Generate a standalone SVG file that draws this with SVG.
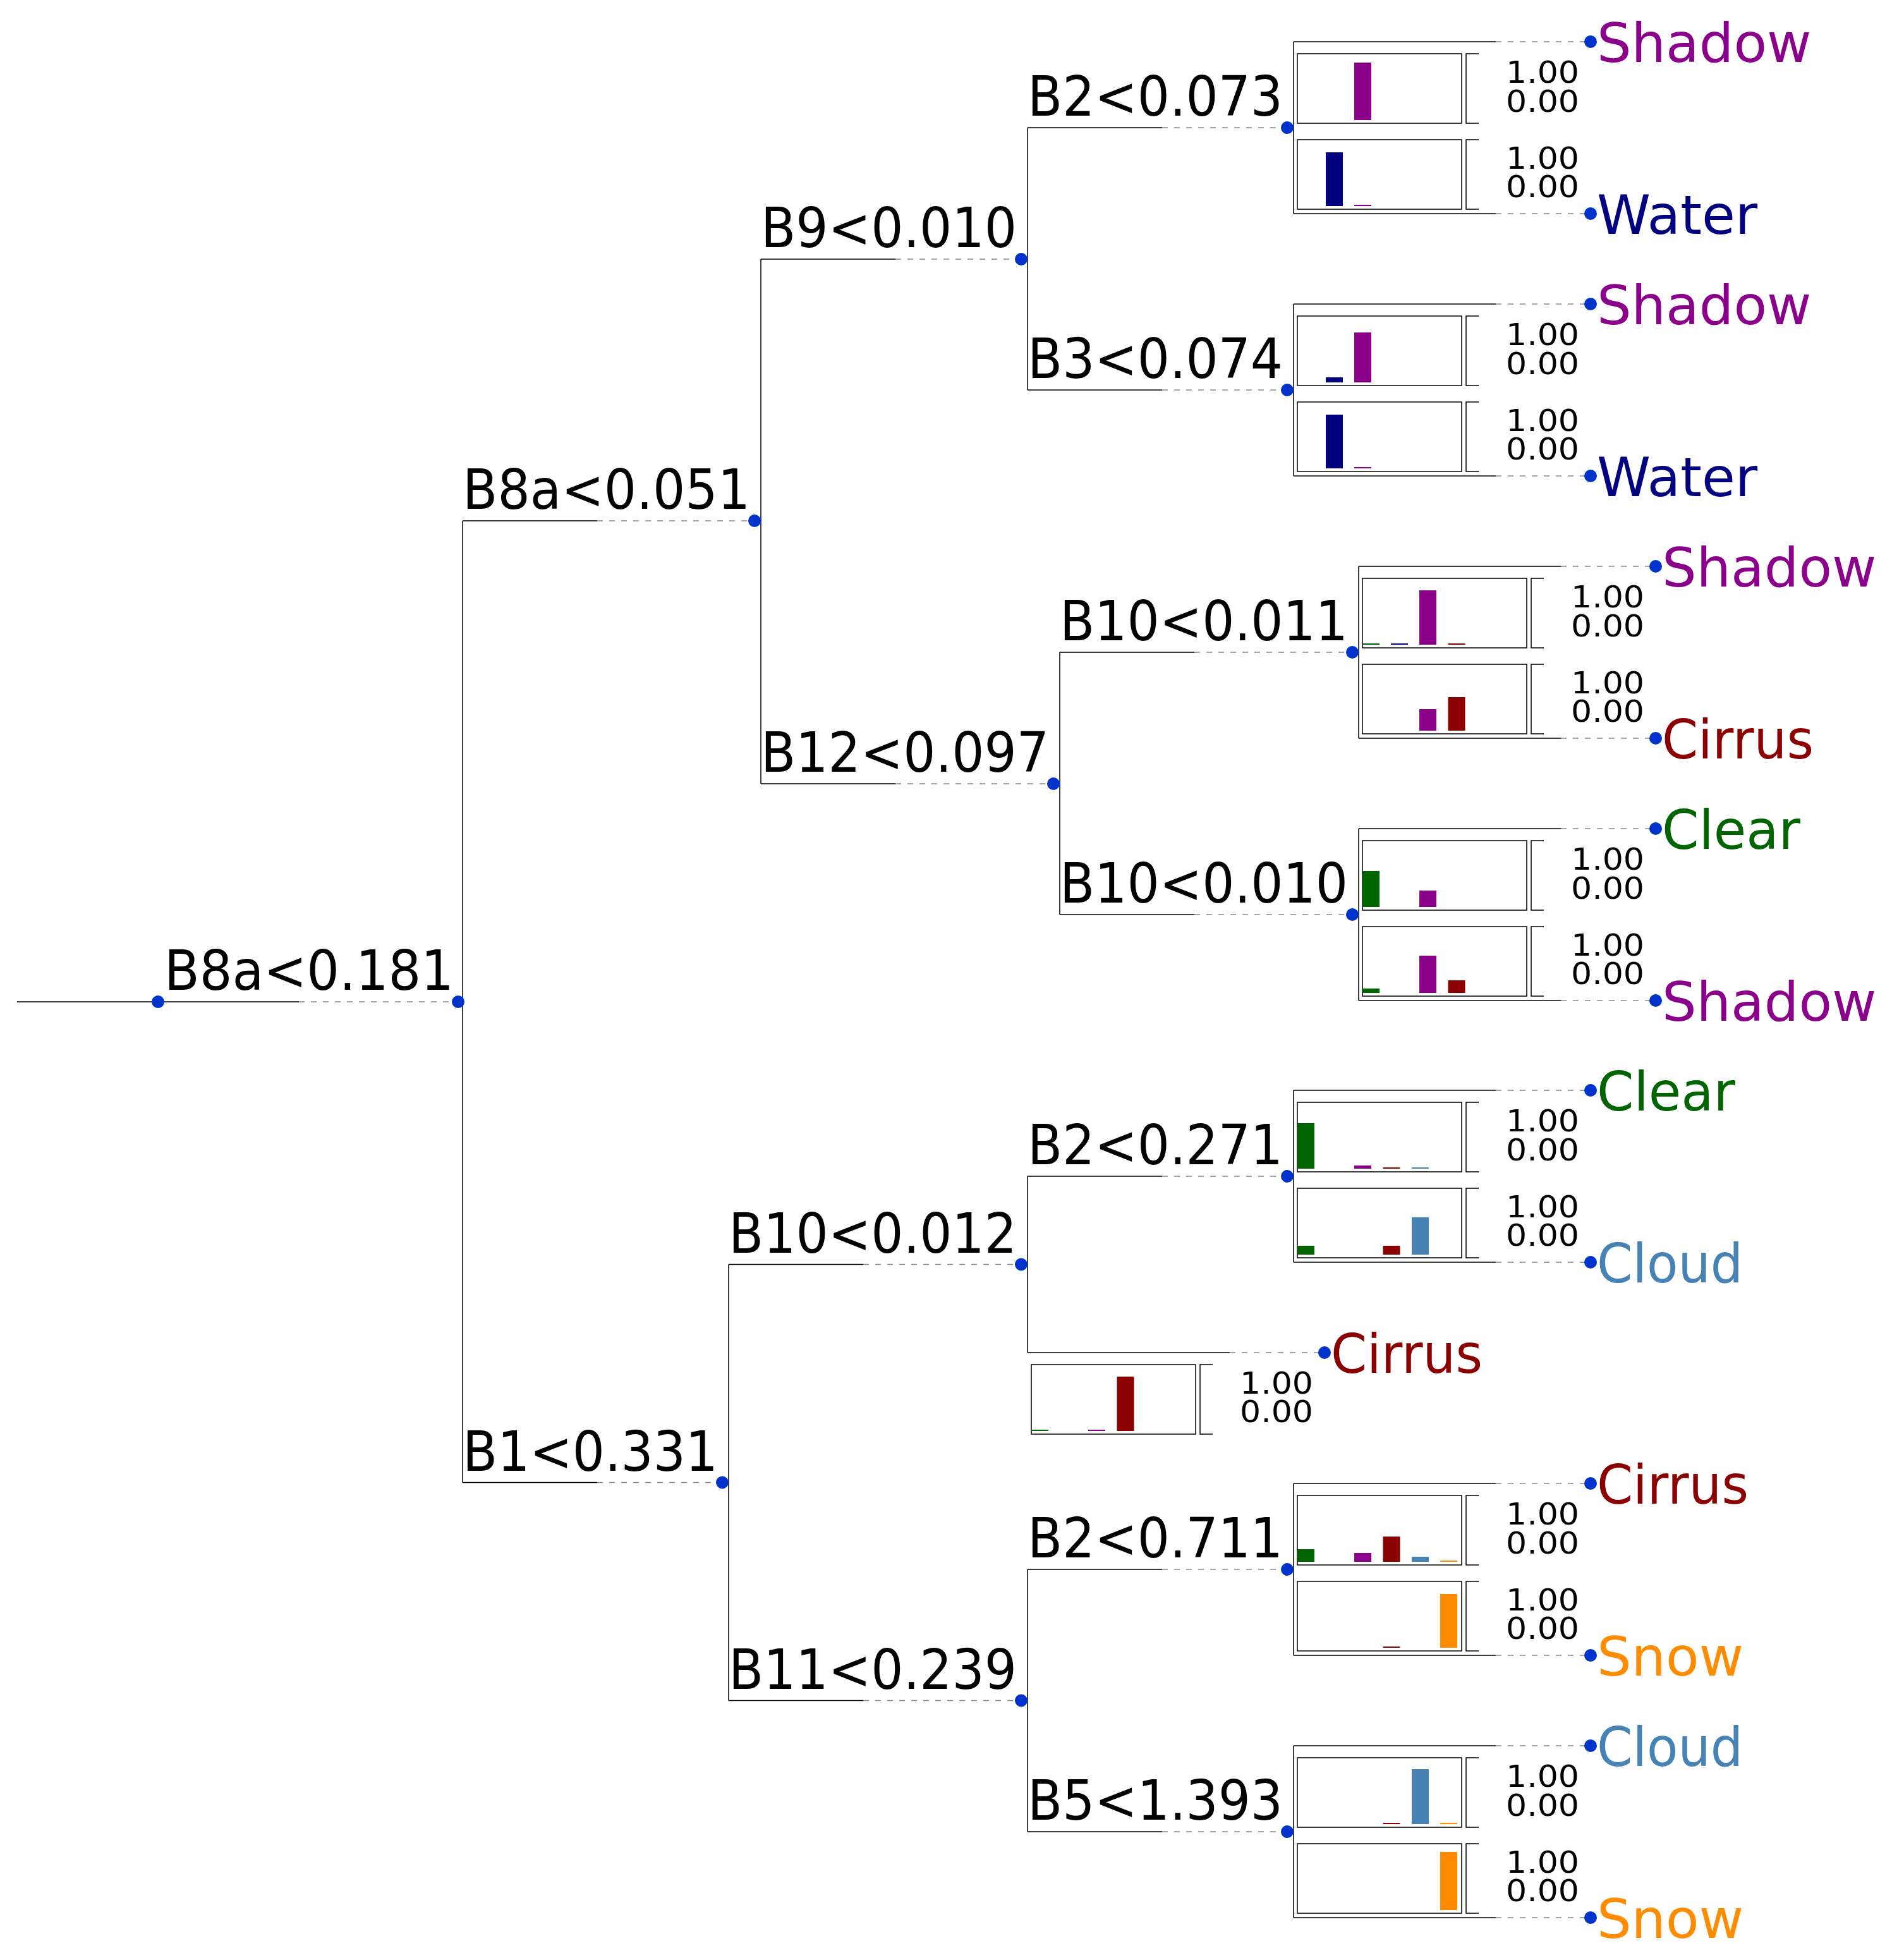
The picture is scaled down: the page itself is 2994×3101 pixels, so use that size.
<svg xmlns="http://www.w3.org/2000/svg" width="2994" height="3101" viewBox="0 0 2994 3101">
<style>
.e{stroke:#000;stroke-width:1.5;fill:none}
.d{stroke:#888;stroke-width:1.5;stroke-dasharray:9 10;fill:none}
.dot{fill:#0033cc}
.lbl{font-family:"DejaVu Sans",sans-serif;font-size:87px;fill:#000}
.lf{font-family:"DejaVu Sans",sans-serif;font-size:86px}
.num{font-family:"DejaVu Sans",sans-serif;font-size:48px;fill:#000}
.bx{fill:none;stroke:#000;stroke-width:1.5}
.g{fill:#006400}.w{fill:#000080}.s{fill:#8b008b}.c{fill:#8b0000}.cl{fill:#4682b4}.sn{fill:#ff8c00}
</style>
<defs>
<g id="box1"><rect class="bx" x="6" y="-117" width="260" height="110"/><path class="bx" d="M293,-117H273V-7H293"/><text class="num" x="336" y="-71" textLength="116" lengthAdjust="spacingAndGlyphs">1.00</text><text class="num" x="336" y="-25" textLength="116" lengthAdjust="spacingAndGlyphs">0.00</text></g>
<g id="box2"><rect class="bx" x="6" y="19" width="260" height="110"/><path class="bx" d="M293,19H273V129H293"/><text class="num" x="336" y="65" textLength="116" lengthAdjust="spacingAndGlyphs">1.00</text><text class="num" x="336" y="110" textLength="116" lengthAdjust="spacingAndGlyphs">0.00</text></g>
</defs>
<rect width="2994" height="3101" fill="#fff"/>
<g id="connectors">
<path class="e" d="M27,1585H473M732,824V2345.5M1204,410V1240M1153,2000.5V2690.5M1626,202V617M1677,1032V1447M1626,1861V2140M1626,2483V2898M2047,66V338M2047,481V753M2150,896V1168M2150,1311V1583M2047,1725V1997M2047,2347V2619M2047,2762V3034"/>
<path class="d" d="M473,1585H725"/>
<path class="e" d="M732,824H945M732,2345.5H945M1204,410H1417M1204,1240H1417M1153,2000.5H1366M1153,2690.5H1366M1626,202H1839M1626,617H1839M1677,1032H1890M1677,1447H1890M1626,1861H1839M1626,2483H1839M1626,2898H1839"/>
<path class="d" d="M945,824H1194M945,2345.5H1143M1417,410H1616M1417,1240H1667M1366,2000.5H1616M1366,2690.5H1616M1839,202H2037M1839,617H2037M1890,1032H2140M1890,1447H2140M1839,1861H2037M1839,2483H2037M1839,2898H2037"/>
<path class="e" d="M1626,2140H1946M2047,66H2367M2047,338H2367M2047,481H2367M2047,753H2367M2150,896H2470M2150,1168H2470M2150,1311H2470M2150,1583H2470M2047,1725H2367M2047,1997H2367M2047,2347H2367M2047,2619H2367M2047,2762H2367M2047,3034H2367"/>
<path class="d" d="M1946,2140H2096M2367,66H2517M2367,338H2517M2367,481H2517M2367,753H2517M2470,896H2620M2470,1168H2620M2470,1311H2620M2470,1583H2620M2367,1725H2517M2367,1997H2517M2367,2347H2517M2367,2619H2517M2367,2762H2517M2367,3034H2517"/>
</g>
<g id="root"><circle class="dot" cx="250" cy="1585" r="10"/><circle class="dot" cx="725" cy="1585" r="10"/><text class="lbl" x="260" y="1566" textLength="458" lengthAdjust="spacingAndGlyphs">B8a&lt;0.181</text></g>
<g id="n_b8a_051"><circle class="dot" cx="1194" cy="824" r="10"/><text class="lbl" x="732" y="805" textLength="455" lengthAdjust="spacingAndGlyphs">B8a&lt;0.051</text></g>
<g id="n_b1_331"><circle class="dot" cx="1143" cy="2345.5" r="10"/><text class="lbl" x="732" y="2326.5" textLength="404" lengthAdjust="spacingAndGlyphs">B1&lt;0.331</text></g>
<g id="n_b9_010"><circle class="dot" cx="1616" cy="410" r="10"/><text class="lbl" x="1204" y="391" textLength="405" lengthAdjust="spacingAndGlyphs">B9&lt;0.010</text></g>
<g id="n_b12_097"><circle class="dot" cx="1667" cy="1240" r="10"/><text class="lbl" x="1204" y="1221" textLength="456" lengthAdjust="spacingAndGlyphs">B12&lt;0.097</text></g>
<g id="n_b10_012"><circle class="dot" cx="1616" cy="2000.5" r="10"/><text class="lbl" x="1153" y="1981.5" textLength="456" lengthAdjust="spacingAndGlyphs">B10&lt;0.012</text></g>
<g id="n_b11_239"><circle class="dot" cx="1616" cy="2690.5" r="10"/><text class="lbl" x="1153" y="2671.5" textLength="456" lengthAdjust="spacingAndGlyphs">B11&lt;0.239</text></g>
<g id="n_b2_073"><circle class="dot" cx="2037" cy="202" r="10"/><text class="lbl" x="1626" y="183" textLength="404" lengthAdjust="spacingAndGlyphs">B2&lt;0.073</text></g>
<g id="n_b3_074"><circle class="dot" cx="2037" cy="617" r="10"/><text class="lbl" x="1626" y="598" textLength="404" lengthAdjust="spacingAndGlyphs">B3&lt;0.074</text></g>
<g id="n_b10_011"><circle class="dot" cx="2140" cy="1032" r="10"/><text class="lbl" x="1677" y="1013" textLength="456" lengthAdjust="spacingAndGlyphs">B10&lt;0.011</text></g>
<g id="n_b10_010"><circle class="dot" cx="2140" cy="1447" r="10"/><text class="lbl" x="1677" y="1428" textLength="456" lengthAdjust="spacingAndGlyphs">B10&lt;0.010</text></g>
<g id="n_b2_271"><circle class="dot" cx="2037" cy="1861" r="10"/><text class="lbl" x="1626" y="1842" textLength="404" lengthAdjust="spacingAndGlyphs">B2&lt;0.271</text></g>
<g id="n_b2_711"><circle class="dot" cx="2037" cy="2483" r="10"/><text class="lbl" x="1626" y="2464" textLength="404" lengthAdjust="spacingAndGlyphs">B2&lt;0.711</text></g>
<g id="n_b5_1393"><circle class="dot" cx="2037" cy="2898" r="10"/><text class="lbl" x="1626" y="2879" textLength="404" lengthAdjust="spacingAndGlyphs">B5&lt;1.393</text></g>

<g id="leaf_a1"><g transform="translate(2047,202)"><use href="#box1"/><rect class="s" x="96" y="-103" width="27" height="91"/></g><circle class="dot" cx="2517" cy="66" r="10"/><text class="lf s" x="2527" y="98">Shadow</text></g>
<g id="leaf_a2"><g transform="translate(2047,202)"><use href="#box2"/><rect class="w" x="51" y="39" width="27" height="85"/><rect class="s" x="96" y="122" width="27" height="2"/></g><circle class="dot" cx="2517" cy="338" r="10"/><text class="lf w" x="2527" y="370">Water</text></g>
<g id="leaf_b1"><g transform="translate(2047,617)"><use href="#box1"/><rect class="w" x="51" y="-20" width="27" height="8"/><rect class="s" x="96" y="-91" width="27" height="79"/></g><circle class="dot" cx="2517" cy="481" r="10"/><text class="lf s" x="2527" y="513">Shadow</text></g>
<g id="leaf_b2"><g transform="translate(2047,617)"><use href="#box2"/><rect class="w" x="51" y="39" width="27" height="85"/><rect class="s" x="96" y="122" width="27" height="2"/></g><circle class="dot" cx="2517" cy="753" r="10"/><text class="lf w" x="2527" y="785">Water</text></g>
<g id="leaf_c1"><g transform="translate(2150,1032)"><use href="#box1"/><rect class="g" x="6" y="-14" width="27" height="2"/><rect class="w" x="51" y="-14" width="27" height="2"/><rect class="s" x="96" y="-98" width="27" height="86"/><rect class="c" x="141.5" y="-14" width="27" height="2"/></g><circle class="dot" cx="2620" cy="896" r="10"/><text class="lf s" x="2630" y="928">Shadow</text></g>
<g id="leaf_c2"><g transform="translate(2150,1032)"><use href="#box2"/><rect class="s" x="96" y="90" width="27" height="34"/><rect class="c" x="141.5" y="71" width="27" height="53"/></g><circle class="dot" cx="2620" cy="1168" r="10"/><text class="lf c" x="2630" y="1200" textLength="240" lengthAdjust="spacingAndGlyphs">Cirrus</text></g>
<g id="leaf_d1"><g transform="translate(2150,1447)"><use href="#box1"/><rect class="g" x="6" y="-69" width="27" height="57"/><rect class="s" x="96" y="-38" width="27" height="26"/></g><circle class="dot" cx="2620" cy="1311" r="10"/><text class="lf g" x="2630" y="1343" textLength="219" lengthAdjust="spacingAndGlyphs">Clear</text></g>
<g id="leaf_d2"><g transform="translate(2150,1447)"><use href="#box2"/><rect class="g" x="6" y="117" width="27" height="7"/><rect class="s" x="96" y="65" width="27" height="59"/><rect class="c" x="141.5" y="104" width="27" height="20"/></g><circle class="dot" cx="2620" cy="1583" r="10"/><text class="lf s" x="2630" y="1615">Shadow</text></g>
<g id="leaf_e1"><g transform="translate(2047,1861)"><use href="#box1"/><rect class="g" x="6" y="-84" width="27" height="72"/><rect class="s" x="96" y="-17" width="27" height="5"/><rect class="c" x="141.5" y="-14" width="27" height="2"/><rect class="cl" x="187" y="-14" width="27" height="2"/></g><circle class="dot" cx="2517" cy="1725" r="10"/><text class="lf g" x="2527" y="1757" textLength="219" lengthAdjust="spacingAndGlyphs">Clear</text></g>
<g id="leaf_e2"><g transform="translate(2047,1861)"><use href="#box2"/><rect class="g" x="6" y="110" width="27" height="14"/><rect class="c" x="141.5" y="110" width="27" height="14"/><rect class="cl" x="187" y="65" width="27" height="59"/></g><circle class="dot" cx="2517" cy="1997" r="10"/><text class="lf cl" x="2527" y="2029" textLength="231" lengthAdjust="spacingAndGlyphs">Cloud</text></g>
<g id="leaf_cirrus"><g transform="translate(1626,2140)"><use href="#box2"/><rect class="g" x="6" y="122" width="27" height="2"/><rect class="s" x="96" y="122" width="27" height="2"/><rect class="c" x="141.5" y="38" width="27" height="86"/></g><circle class="dot" cx="2096" cy="2140" r="10"/><text class="lf c" x="2106" y="2172" textLength="240" lengthAdjust="spacingAndGlyphs">Cirrus</text></g>
<g id="leaf_f1"><g transform="translate(2047,2483)"><use href="#box1"/><rect class="g" x="6" y="-32" width="27" height="20"/><rect class="s" x="96" y="-26" width="27" height="14"/><rect class="c" x="141.5" y="-52" width="27" height="40"/><rect class="cl" x="187" y="-20" width="27" height="8"/><rect class="sn" x="232" y="-14" width="27" height="2"/></g><circle class="dot" cx="2517" cy="2347" r="10"/><text class="lf c" x="2527" y="2379" textLength="240" lengthAdjust="spacingAndGlyphs">Cirrus</text></g>
<g id="leaf_f2"><g transform="translate(2047,2483)"><use href="#box2"/><rect class="c" x="141.5" y="122" width="27" height="2"/><rect class="sn" x="232" y="39" width="27" height="85"/></g><circle class="dot" cx="2517" cy="2619" r="10"/><text class="lf sn" x="2527" y="2651">Snow</text></g>
<g id="leaf_g1"><g transform="translate(2047,2898)"><use href="#box1"/><rect class="c" x="141.5" y="-14" width="27" height="2"/><rect class="cl" x="187" y="-99" width="27" height="87"/><rect class="sn" x="232" y="-14" width="27" height="2"/></g><circle class="dot" cx="2517" cy="2762" r="10"/><text class="lf cl" x="2527" y="2794" textLength="231" lengthAdjust="spacingAndGlyphs">Cloud</text></g>
<g id="leaf_g2"><g transform="translate(2047,2898)"><use href="#box2"/><rect class="sn" x="232" y="32" width="27" height="92"/></g><circle class="dot" cx="2517" cy="3034" r="10"/><text class="lf sn" x="2527" y="3066">Snow</text></g>
</svg>
